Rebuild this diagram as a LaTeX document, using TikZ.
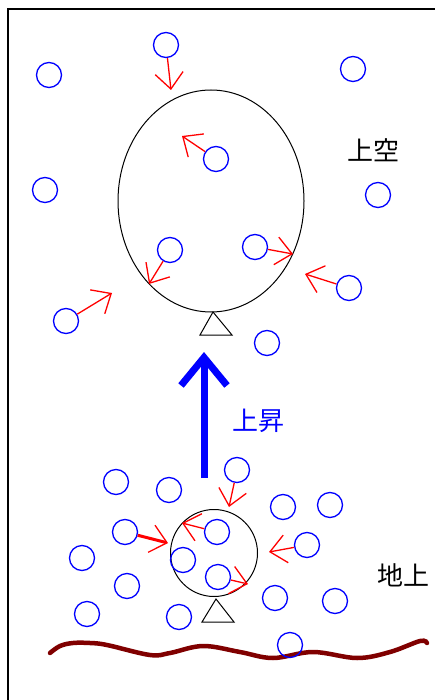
\documentclass[tikz,border=0pt]{standalone}
\usepackage{fontspec}
\newfontfamily\jpfont{Noto Sans CJK JP}
\usepackage{tikz}
\usetikzlibrary{arrows.meta}
\definecolor{groundred}{rgb}{0.5,0,0}

\begin{document}
\begin{tikzpicture}[x=1pt,y=-1pt,
    mol/.style={draw=blue,line width=1.3pt,shape=circle,minimum size=25pt,inner sep=0},
    push/.style={red,line width=1.3pt,-{Straight Barb[length=16pt,width=28pt]}},
    label/.style={font=\jpfont\fontsize{26}{26}\selectfont}]
          \useasboundingbox (0,0) rectangle (435,700);
          % frame
          \draw[line width=2pt] (8,700) -- (8,9) -- (435,9);
          % ground
          \draw[groundred,line width=4.5pt,line cap=round] plot [smooth, tension=0.6] coordinates {(50,653) (60,646) (73,643) (90,643) (107,645) (150,655) (170,653) (203,646) (240,652) (273,658) (313,652) (357,658) (390,652) (420,641) (427,643)};
          % balloon up high, big
          \draw[line width=1pt] (211,201) ellipse [x radius=93, y radius=111];
          \draw[line width=1pt] (213,312) -- (232,335) -- (200,335) -- cycle;
          % balloon on the ground, small
          \draw[line width=1pt] (214,553) circle [radius=43.5];
          \draw[line width=1pt] (216,599) -- (234,622) -- (202,622) -- cycle;
          % molecules up high
          \node[mol] (u1) at (166,45) {};
          \node[mol] (u2) at (49,75) {};
          \node[mol] (u3) at (353,69) {};
          \node[mol] (u4) at (216,159) {};
          \node[mol] (u5) at (45,190) {};
          \node[mol] (u6) at (378,195) {};
          \node[mol] (u7) at (170,250) {};
          \node[mol] (u8) at (255,247) {};
          \node[mol] (u9) at (349,288) {};
          \node[mol] (u10) at (66,321) {};
          \node[mol] (u11) at (267,343) {};
          % molecules on the ground
          \node[mol] (g1) at (116,482) {};
          \node[mol] (g2) at (169,490) {};
          \node[mol] (g3) at (237,470) {};
          \node[mol] (g4) at (283,507) {};
          \node[mol] (g5) at (330,505) {};
          \node[mol] (g6) at (125,532) {};
          \node[mol] (g7) at (217,532) {};
          \node[mol] (g8) at (307,545) {};
          \node[mol] (g9) at (82,558) {};
          \node[mol] (g10) at (183,560) {};
          \node[mol] (g11) at (127,586) {};
          \node[mol] (g12) at (218,577) {};
          \node[mol] (g13) at (275,598) {};
          \node[mol] (g14) at (335,601) {};
          \node[mol] (g15) at (87,614) {};
          \node[mol] (g16) at (179,617) {};
          \node[mol] (g17) at (290,645) {};
          % where the molecules hit
          \coordinate (hu1) at (171,90);
          \coordinate (hu4) at (182,136);
          \coordinate (hu7) at (149,284);
          \coordinate (hu8) at (293,254);
          \coordinate (hu9) at (305,274);
          \coordinate (hu10) at (112,293);
          \coordinate (hg3) at (229,507);
          \coordinate (hg6) at (168,543);
          \coordinate (hg7) at (182,523);
          \coordinate (hg8) at (269,552);
          \coordinate (hg12) at (248,584);
          \draw[push] (u1) -- (hu1);
          \draw[push] (u4) -- (hu4);
          \draw[push] (u7) -- (hu7);
          \draw[push] (u8) -- (hu8);
          \draw[push] (u9) -- (hu9);
          \draw[push] (u10) -- (hu10);
          \draw[push] (g3) -- (hg3);
          \draw[push,line width=3pt,-{Straight Barb[length=16pt,width=28pt,line width=1.3pt]}] (g6) -- (hg6);
          \draw[push] (g7) -- (hg7);
          \draw[push] (g8) -- (hg8);
          \draw[push] (g12) -- (hg12);
          % rising
          \coordinate (rise0) at (204,478);
          \coordinate (rise1) at (204,352);
          \draw[blue,line width=7pt,-{Straight Barb[length=28pt,width=46pt]}] (rise0) -- (rise1);
          \node[label] (high) at (373,150) {上空};
          \node[label,blue] (rising) at (258,421) {上昇};
          \node[label] (ground) at (403,575) {地上};
        \end{tikzpicture}
\end{document}
